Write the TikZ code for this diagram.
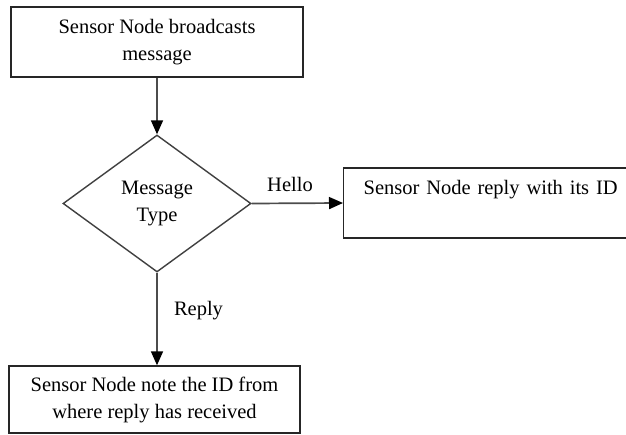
\documentclass[tikz,border=0pt]{standalone}
\usepackage{fontspec}
\setmainfont{Liberation Serif}
\usetikzlibrary{shapes.geometric,arrows.meta}
\begin{document}
\begin{tikzpicture}[x=1pt,y=-1pt,
  every node/.style={font=\fontsize{20.5}{27}\selectfont},
  box/.style={draw=black!85, line width=1.4pt, rectangle, inner sep=0pt, align=center},
  decision/.style={draw=black!75, line width=1.4pt, diamond, inner sep=0pt, minimum width=188pt, minimum height=137pt, align=center},
  flow/.style={draw=black!70, line width=1.7pt, -{Triangle[length=14pt,width=12pt,fill=black,color=black]}},
  lbl/.style={anchor=base, inner sep=0pt}]
\useasboundingbox (0,0) rectangle (626,435);
\fill[white] (0,0) rectangle (626,435);
\begin{scope}
\clip (0,0) rectangle (626,435);
\node[box, minimum width=292pt, minimum height=70pt] (start) at (157,42) {Sensor Node broadcasts\\message};
\node[decision] (type) at (157,203.5) {Message\\Type};
\node[box, anchor=west, minimum width=300pt, minimum height=70pt, text width=260pt, align=left, inner xsep=20pt, inner ysep=8pt] (hello) at (343,203) {Sensor Node reply with its ID\strut\\\strut};
\node[box, minimum width=291pt, minimum height=67pt] (note) at (154.5,399.5) {Sensor Node note the ID from\\where reply has received};
\draw[flow] (start.south) -- (type.north);
\draw[flow] (type.east) -- (hello.west);
\draw[flow] (type.south) -- (type.south |- note.north);
\node[lbl] (hellolbl) at (290,192) {Hello};
\node[lbl] (replylbl) at (198.5,316) {Reply};
\end{scope}
\end{tikzpicture}
\end{document}
